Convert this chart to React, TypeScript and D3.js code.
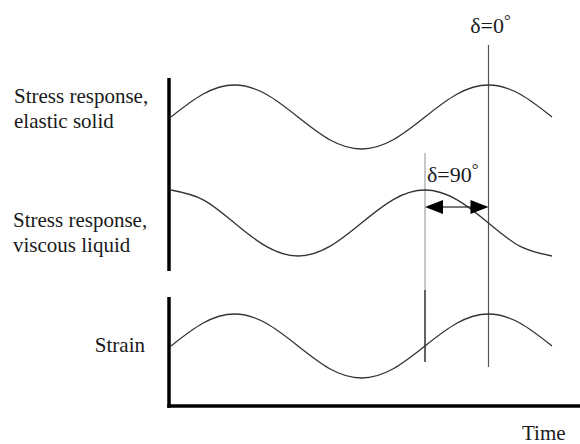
import React from "react";
import * as d3 from "d3";

// Time, in cycles of the applied oscillation (eighth-cycle samples)
const phase = [0, 0.125, 0.25, 0.375, 0.5, 0.625, 0.75, 0.875, 1, 1.125, 1.25, 1.375, 1.5];
// Normalised signal amplitudes at each sample
const elasticStress = [0, 0.71, 1, 0.71, 0, -0.71, -1, -0.71, 0, 0.71, 1, 0.71, 0];
const viscousStress = [1, 0.71, 0, -0.71, -1, -0.71, 0, 0.71, 1, 0.71, 0, -0.71, -1];
const strainSignal = [0, 0.71, 1, 0.71, 0, -0.71, -1, -0.71, 0, 0.71, 1, 0.71, 0];

const seriesLabels = [
  ["Stress response,", "elastic solid"],
  ["Stress response,", "viscous liquid"],
  ["Strain"],
];

// Phase-lag markers (cycles) and their angles in degrees
const lagMarkers = [1.0, 1.25];
const lagAngles = [90, 0];

const W = 580;
const H = 444;
const textStyle: React.CSSProperties = {
  fontFamily: '"Times New Roman", "Liberation Serif", Times, "DejaVu Serif", serif',
  fill: "#1a1a1a",
};

export default function App() {
  const originX = 169;
  const axisY = 406;

  const x = d3.scaleLinear().domain([0, 1.5]).range([171, 552]);

  // one vertical band per trace
  const panels = [
    { values: elasticStress, centre: 117, amp: 32 },
    { values: viscousStress, centre: 223, amp: 33 },
    { values: strainSignal, centre: 346, amp: 32 },
  ];

  const paths = panels.map((p) => {
    const y = d3.scaleLinear().domain([-1, 1]).range([p.centre + p.amp, p.centre - p.amp]);
    const line = d3
      .line<number>()
      .x((_, i) => x(phase[i]))
      .y((v) => y(v))
      .curve(d3.curveNatural);
    return line(p.values) || "";
  });

  const lagX = lagMarkers.map((t) => x(t));
  const arrowY = 207;
  const head = 18;
  const half = 7;
  const [lx, rx] = lagX;

  return (
    <svg
      width={W}
      height={H}
      viewBox={`0 0 ${W} ${H}`}
      style={{ position: "absolute", left: 0, top: 0, background: "#fff" }}
    >
      {/* phase reference lines */}
      <line x1={rx} x2={rx} y1={45} y2={367} stroke="#555" strokeWidth={1.2} />
      <line x1={lx} x2={lx} y1={153} y2={290} stroke="#999" strokeWidth={1.1} />
      <line x1={lx} x2={lx} y1={290} y2={362} stroke="#222" strokeWidth={1.4} />

      {/* traces */}
      {paths.map((d, i) => (
        <path key={i} d={d} fill="none" stroke="#333" strokeWidth={1.3} />
      ))}

      {/* axes */}
      <line x1={originX} x2={originX} y1={78} y2={271} stroke="#000" strokeWidth={3.5} />
      <line x1={originX} x2={originX} y1={297} y2={axisY + 1.75} stroke="#000" strokeWidth={3.5} />
      <line x1={originX - 1.75} x2={W} y1={axisY} y2={axisY} stroke="#000" strokeWidth={3.5} />

      {/* 90 degree lag arrow */}
      <line x1={lx + head - 2} x2={rx - head + 2} y1={arrowY} y2={arrowY} stroke="#222" strokeWidth={1.2} />
      <polygon
        points={`${lx},${arrowY} ${lx + head},${arrowY - half} ${lx + head},${arrowY + half}`}
        fill="#000"
      />
      <polygon
        points={`${rx},${arrowY} ${rx - head},${arrowY - half} ${rx - head},${arrowY + half}`}
        fill="#000"
      />

      {/* lag labels */}
      <text x={rx + 2} y={33} fontSize={22} textAnchor="middle" style={textStyle}>
        {`δ=${lagAngles[1]}`}
        <tspan fontSize={17} dy={-7}>°</tspan>
      </text>
      <text x={lx + 2} y={182} fontSize={22} style={textStyle}>
        {`δ=${lagAngles[0]}`}
        <tspan fontSize={17} dy={-7}>°</tspan>
      </text>

      {/* trace labels */}
      <text x={14} y={103} fontSize={21} style={textStyle}>{seriesLabels[0][0]}</text>
      <text x={14} y={128} fontSize={21} style={textStyle}>{seriesLabels[0][1]}</text>
      <text x={13} y={227} fontSize={21} style={textStyle}>{seriesLabels[1][0]}</text>
      <text x={13} y={252} fontSize={21} style={textStyle}>{seriesLabels[1][1]}</text>
      <text x={145} y={352} fontSize={21} textAnchor="end" style={textStyle}>{seriesLabels[2][0]}</text>

      <text x={522} y={440} fontSize={21} style={textStyle}>Time</text>
    </svg>
  );
}
